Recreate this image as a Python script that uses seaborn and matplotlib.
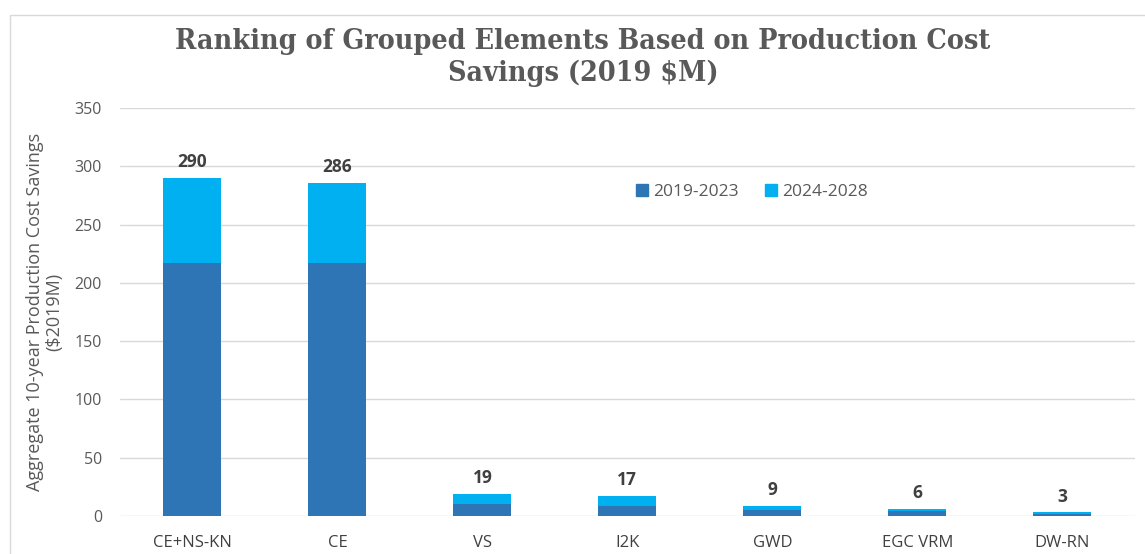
import matplotlib
matplotlib.use("Agg")
import matplotlib.pyplot as plt
import matplotlib.patches as mpatches
import seaborn as sns

# Dados do gráfico
elementos = ["CE+NS-KN", "CE", "VS", "I2K", "GWD", "EGC VRM", "DW-RN"]
periodo_1 = [217, 217, 10, 9, 5, 4, 2]     # 2019-2023
periodo_2 = [73, 69, 9, 8, 4, 2, 1]        # 2024-2028
series = ["2019-2023", "2024-2028"]
yticks = [0, 50, 100, 150, 200, 250, 300, 350]

cor_escura = "#2E75B6"
cor_clara = "#00B0F0"
cinza = "#595959"

sns.set_theme(style="white")
plt.rcParams["font.family"] = ["Open Sans", "DejaVu Sans"]

totais = [a + b for a, b in zip(periodo_1, periodo_2)]

fig = plt.figure(figsize=(11.45, 5.54), dpi=100)
ax = fig.add_axes([0.1048, 0.0686, 0.8862, 0.7364])

# Barras empilhadas: total por trás, primeiro período por cima
sns.barplot(x=elementos, y=totais, color=cor_clara, width=0.4, saturation=1,
            linewidth=0, ax=ax)
sns.barplot(x=elementos, y=periodo_1, color=cor_escura, width=0.4, saturation=1,
            linewidth=0, ax=ax)

for i, t in enumerate(totais):
    ax.text(i, t + 6, str(t), ha="center", va="bottom", fontsize=12.5,
            fontweight="bold", color="#404040")

ax.set_ylim(0, 350)
ax.set_yticks(yticks)
ax.set_xlim(-0.5, len(elementos) - 0.5)
ax.yaxis.grid(True, color="#D9D9D9", linewidth=1)
ax.set_axisbelow(True)
for s in ax.spines.values():
    s.set_visible(False)
ax.tick_params(axis="y", colors=cinza, labelsize=11.5, length=0, pad=13)
ax.tick_params(axis="x", colors="#404040", labelsize=12, length=0, pad=14)
ax.set_xlabel("")
ax.set_ylabel("Aggregate 10-year Production Cost Savings\n($2019M)",
              fontsize=13, color=cinza, labelpad=8, linespacing=1.1)

handles = [mpatches.Patch(color=cor_escura, label=series[0]),
           mpatches.Patch(color=cor_clara, label=series[1])]
ax.legend(handles=handles, loc="center", bbox_to_anchor=(0.623, 0.794), ncol=2,
          frameon=False, fontsize=12.5, labelcolor=cinza, handlelength=0.7,
          handleheight=0.7, handletextpad=0.3, columnspacing=1.5)

fig.text(0.509, 0.896, "Ranking of Grouped Elements Based on Production Cost\nSavings (2019 $M)",
         ha="center", va="center", fontsize=20.5, fontweight="bold", color=cinza,
         family=["DejaVu Serif"], fontstretch="condensed", linespacing=1.25)

# Moldura do gráfico
fig.add_artist(mpatches.Rectangle((0.009, -0.01), 1.0, 0.983, transform=fig.transFigure,
                                  fill=False, edgecolor="#D9D9D9", linewidth=1))

fig.savefig("out.png", dpi=100)
